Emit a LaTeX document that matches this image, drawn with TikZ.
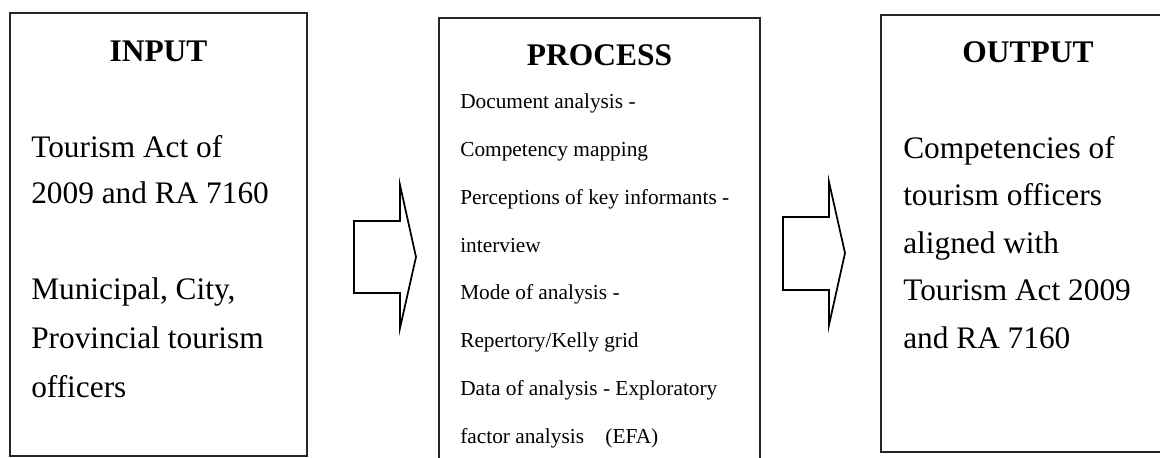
\documentclass[tikz,border=0pt]{standalone}
\usepackage{fontspec}
\setmainfont{Liberation Serif}
\begin{document}
\begin{tikzpicture}[x=0.75pt,y=-0.75pt,
  frame/.style={draw=black!85,line width=1.4pt},
  blockarrow/.style={draw=black,line width=1.3pt,line join=miter,fill=white},
  heading/.style={inner sep=0pt,anchor=base,font=\fontsize{23.6}{30}\selectfont\bfseries},
  bigtext/.style={inner sep=0pt,anchor=base west,align=left,font=\fontsize{23.5}{35.6}\selectfont},
  smalltext/.style={inner sep=0pt,anchor=base west,align=left,font=\fontsize{16}{35.8}\selectfont}]
\useasboundingbox (0,0) rectangle (1160,457);
\begin{scope}
\clip (0,0) rectangle (1160,457);
% boxes
\draw[frame] (10,13) rectangle (307,456);
\draw[frame] (439,18) rectangle (760,480);
\draw[frame] (881,15) rectangle (1175,452);
% headings
\node[heading] (inhead) at (158.5,61) {INPUT};
\node[heading] (prochead) at (599.5,65) {PROCESS};
\node[heading] (outhead) at (1028,62) {OUTPUT};
% body texts (anchored at the baseline of their last line)
\node[bigtext,font=\fontsize{23.5}{34.5}\selectfont] (intexta) at (31,203) {Tourism Act of\\2009 and RA 7160};
\node[bigtext,font=\fontsize{23.5}{36.4}\selectfont] (intextb) at (31,397) {Municipal, City,\\Provincial tourism\\officers};
\node[smalltext] (proctext) at (460,443) {Document analysis -\\Competency mapping\\Perceptions of key informants -\\interview\\Mode of analysis -\\Repertory/Kelly grid\\Data of analysis - Exploratory\\factor analysis\quad(EFA)};
\node[bigtext] (outtext) at (903,348) {Competencies of\\tourism officers\\aligned with\\Tourism Act 2009\\and RA 7160};
% block arrows
\draw[blockarrow] (354,221) -- (400,221) -- (400,185) -- (416,257) -- (400,328) -- (400,293) -- (354,293) -- cycle;
\draw[blockarrow] (783,217) -- (829,217) -- (829,182) -- (845,253) -- (829,325) -- (829,290) -- (783,290) -- cycle;
\end{scope}
\end{tikzpicture}
\end{document}
